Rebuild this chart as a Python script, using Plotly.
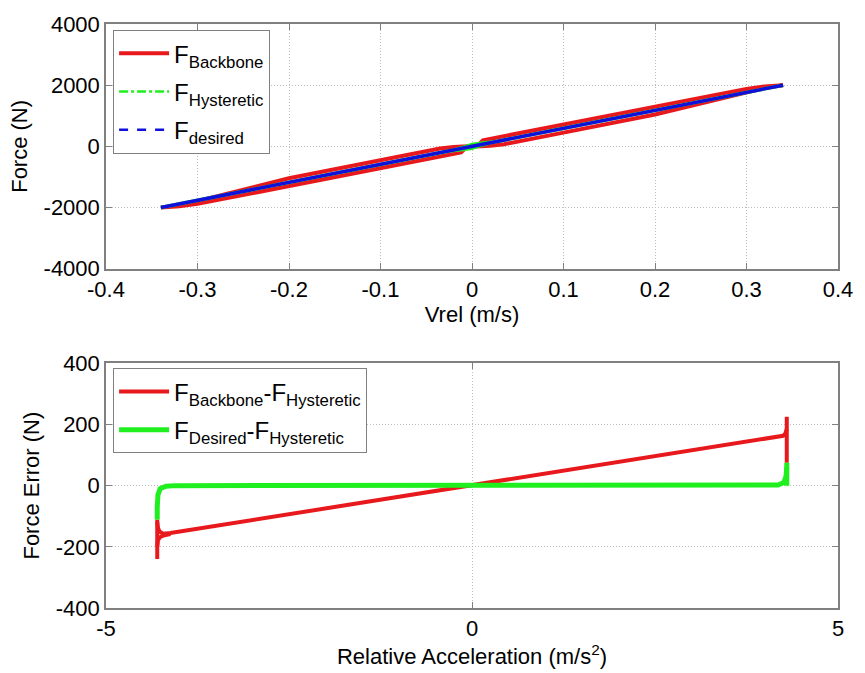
import plotly.graph_objects as go

# ---------------- Top panel data: Force vs Vrel ----------------
vrel_backbone = [-0.34, -0.335, -0.32, -0.20, -0.10, -0.035, -0.02, 0.0, 0.006, 0.012, 0.10, 0.20, 0.30, 0.32, 0.335, 0.34,
                 0.335, 0.32, 0.20, 0.10, 0.035, 0.02, 0.0, -0.006, -0.012, -0.10, -0.20, -0.30, -0.32, -0.335, -0.34]
force_backbone = [-2000, -1990, -1940, -1040, -450, -70, -20, 0, 20, 200, 720, 1310, 1880, 1960, 2000, 2000,
                  1980, 1910, 1040, 450, 70, 20, 0, -20, -200, -720, -1310, -1880, -1960, -2000, -2000]

vrel_hyst = [-0.34, -0.10, -0.02, -0.008, 0.0, 0.012, 0.025, 0.10, 0.34,
             0.10, 0.02, 0.008, 0.0, -0.012, -0.025, -0.10, -0.34]
force_hyst = [-2000, -590, -118, -20, 60, 110, 150, 590, 2000,
              590, 118, 20, -60, -110, -150, -590, -2000]

vrel_desired = [-0.34, 0.0, 0.34]
force_desired = [-2000, 0, 2000]

x1_ticks = [-0.4, -0.3, -0.2, -0.1, 0, 0.1, 0.2, 0.3, 0.4]
x1_labels = ["-0.4", "-0.3", "-0.2", "-0.1", "0", "0.1", "0.2", "0.3", "0.4"]
y1_ticks = [-4000, -2000, 0, 2000, 4000]
y1_labels = ["-4000", "-2000", "0", "2000", "4000"]

# ---------------- Bottom panel data: Force error vs acceleration ----------------
acc_bb_err = [-4.30, -4.30, None,
              -4.30, -4.29, -4.27, -4.22, -4.12, 0.0, 4.12, 4.20, 4.25, 4.28, 4.30, None,
              -4.30, -4.29, -4.26, -4.20, -4.12, None,
              4.30, 4.30]
err_bb = [-111, -240, None,
          -118, -138, -150, -157, -155, 0, 155, 158, 163, 170, 185, None,
          -200, -178, -168, -162, -158, None,
          75, 225]

acc_des_err = [-4.30, -4.30, None,
               -4.30, -4.29, -4.26, -4.18, -4.05, 0.0, 4.05, 4.18, 4.26, 4.29, 4.30, None,
               4.30, 4.30]
err_des = [-111, -70, None,
           -70, -30, -10, -2, 0, 0, 0, 2, 10, 30, 60, None,
           0, 75]

x2_ticks = [-5, 0, 5]
x2_labels = ["-5", "0", "5"]
y2_ticks = [-400, -200, 0, 200, 400]
y2_labels = ["-400", "-200", "0", "200", "400"]

RED = "#e8191c"
GREEN = "#1fee1f"
BLUE = "#1010dd"
FONT = "Liberation Sans, Arial, Helvetica, sans-serif"
AXCOL = "#808080"
FS = 22

fig = go.Figure()

# top panel
fig.add_trace(go.Scatter(x=vrel_backbone, y=force_backbone, mode="lines",
                         line=dict(color=RED, width=4), legendgroup="a",
                         name="F<sub>Backbone</sub>", legend="legend",
                         xaxis="x", yaxis="y"))
fig.add_trace(go.Scatter(x=vrel_hyst, y=force_hyst, mode="lines",
                         line=dict(color=GREEN, width=3.5), legendgroup="b",
                         showlegend=False, xaxis="x", yaxis="y"))
fig.add_trace(go.Scatter(x=vrel_desired, y=force_desired, mode="lines",
                         line=dict(color=BLUE, width=3.5), legendgroup="c",
                         showlegend=False, xaxis="x", yaxis="y"))
# legend-only entries with the original line styles
fig.add_trace(go.Scatter(x=[None], y=[None], mode="lines", legendgroup="b",
                         line=dict(color=GREEN, width=2.5, dash="dashdot"),
                         name="F<sub>Hysteretic</sub>", legend="legend",
                         xaxis="x", yaxis="y"))
fig.add_trace(go.Scatter(x=[None], y=[None], mode="lines", legendgroup="c",
                         line=dict(color=BLUE, width=2.5, dash="dash"),
                         name="F<sub>desired</sub>", legend="legend",
                         xaxis="x", yaxis="y"))

# bottom panel
fig.add_trace(go.Scatter(x=acc_bb_err, y=err_bb, mode="lines",
                         line=dict(color=RED, width=4), legendgroup="d",
                         name="F<sub>Backbone</sub>-F<sub>Hysteretic</sub>", legend="legend2",
                         xaxis="x2", yaxis="y2"))
fig.add_trace(go.Scatter(x=acc_des_err, y=err_des, mode="lines",
                         line=dict(color=GREEN, width=5), legendgroup="e",
                         name="F<sub>Desired</sub>-F<sub>Hysteretic</sub>", legend="legend2",
                         xaxis="x2", yaxis="y2"))

axis_common = dict(showline=True, mirror="ticks", linecolor=AXCOL, linewidth=1.5,
                   ticks="inside", ticklen=6, tickcolor=AXCOL, tickwidth=1.2,
                   showgrid=True, gridcolor="#bdbdbd", griddash="1px,2px", gridwidth=1,
                   zeroline=False, tickfont=dict(family=FONT, size=FS, color="black"),
                   tickmode="array")

H = 673
mt, mb = 22, 64
ph = H - mt - mb
top_bottom = 1 - (268 - mt) / ph
bot_top = 1 - (363 - mt) / ph

fig.update_layout(
    width=865, height=673,
    margin=dict(l=106, r=15, t=mt, b=mb),
    paper_bgcolor="white", plot_bgcolor="white",
    font=dict(family=FONT, size=FS, color="black"),
    xaxis=dict(axis_common, domain=[0, 1], range=[-0.4, 0.4], anchor="y",
               tickvals=x1_ticks, ticktext=x1_labels,
               title=dict(text="Vrel (m/s)", font=dict(size=FS), standoff=2)),
    yaxis=dict(axis_common, domain=[top_bottom, 1], range=[-4000, 4000], anchor="x",
               tickvals=y1_ticks, ticktext=y1_labels,
               title=dict(text="Force (N)", font=dict(size=FS), standoff=10)),
    xaxis2=dict(axis_common, domain=[0, 1], range=[-5, 5], anchor="y2",
                tickvals=x2_ticks, ticktext=x2_labels,
                title=dict(text="Relative Acceleration (m/s<sup>2</sup>)", font=dict(size=FS), standoff=4)),
    yaxis2=dict(axis_common, domain=[0, bot_top], range=[-400, 400], anchor="x2",
                tickvals=y2_ticks, ticktext=y2_labels,
                title=dict(text="Force Error (N)", font=dict(size=FS), standoff=10)),
    legend=dict(x=(113 - 106) / 744, y=1 - (28 - mt) / ph, xanchor="left", yanchor="top",
                bgcolor="white", bordercolor=AXCOL, borderwidth=1.2,
                font=dict(family=FONT, size=24, color="black"), itemwidth=50,
                tracegroupgap=4),
    legend2=dict(x=(113 - 106) / 744, y=1 - (368 - mt) / ph, xanchor="left", yanchor="top",
                 bgcolor="white", bordercolor=AXCOL, borderwidth=1.2,
                 font=dict(family=FONT, size=24, color="black"), itemwidth=50,
                 tracegroupgap=4),
    showlegend=True,
)

fig.write_html("out.html")
